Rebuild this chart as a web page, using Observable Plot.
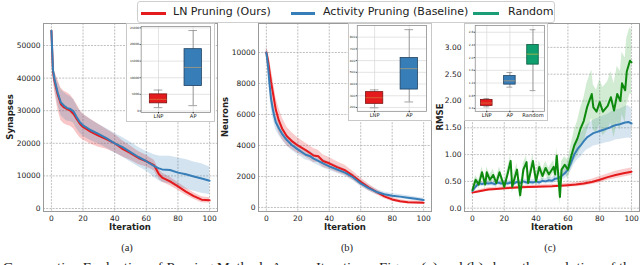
<!DOCTYPE html>
<html><head><meta charset="utf-8">
<script src="https://cdn.jsdelivr.net/npm/d3@7"></script>
<script src="https://cdn.jsdelivr.net/npm/@observablehq/plot@0.6"></script>
<style>
html,body{margin:0;padding:0;background:#fff;}
#root{position:relative;width:640px;height:265px;overflow:hidden;font-family:"DejaVu Sans",sans-serif;color:#222;}
.ylab{position:absolute;font-weight:bold;font-size:8.5px;transform:translate(-50%,-50%) rotate(-90deg);white-space:nowrap;}
.xlab{position:absolute;font-weight:bold;font-size:8.5px;transform:translate(-50%,-50%);white-space:nowrap;}
.cap{position:absolute;font-family:"Liberation Serif",serif;font-size:10.5px;transform:translate(-50%,-50%);white-space:nowrap;}
.legend{position:absolute;left:137px;top:1px;width:416px;height:20px;border:1px solid #cfcfcf;border-radius:3px;background:#fff;}
.lgline{position:absolute;top:10px;height:2.5px;}
.lgtext{position:absolute;top:3px;font-size:11px;white-space:nowrap;}
.insetbox{position:absolute;background:#fff;border:1px solid #c8c8c8;box-sizing:border-box;}
</style></head><body><div id="root"></div>
<script>
// ---------- data ----------
const legendLabels = ["LN Pruning (Ours)", "Activity Pruning (Baseline)", "Random"];
const xTicks = [0, 20, 40, 60, 80, 100];

// (a) synapses
const synIter = [0,1,2,4,6,8,10,12,14,16,18,20,25,30,35,40,45,50,55,60,65,68,70,75,80,85,90,95,100];
const synLNP = [54500,42000,39000,35000,32000,31000,30500,30000,29000,27500,26000,25000,23500,22300,21200,20000,18300,17000,15500,14500,13200,10500,9500,8300,6800,5200,3800,2700,2500];
const synLNPsd = [500,2000,3000,4500,5000,5000,5000,4800,4500,4500,4200,4000,3800,3500,3000,2800,2500,2200,2000,1800,1600,1500,1400,1300,1200,1100,1000,900,800];
const synAP = [54500,42500,39500,35500,32500,31500,30800,30500,29800,28000,26500,25500,24000,22800,21500,20000,18800,17300,15800,14500,13000,12300,12000,11800,11000,10500,9800,9200,8500];
const synAPsd = [500,2000,2500,3500,4000,4000,4000,3800,3600,3500,3400,3300,3200,3000,3000,3000,3000,3000,3000,3000,3500,3800,4000,4200,4500,4500,4500,4500,4200];
const synTicks = [0,10000,20000,30000,40000,50000];

// (b) neurons
const neuIter = [0,1,2,3,4,5,6,8,10,13,16,20,25,28,30,33,36,40,45,50,55,60,65,70,75,80,85,90,95,100];
const neuLNP = [10000,9500,8800,8100,7500,6900,6300,5600,5100,4600,4300,4000,3700,3500,3350,3300,3000,2850,2600,2400,2050,1650,1300,1000,720,520,400,330,320,310];
const neuLNPsd = [300,600,800,900,900,900,850,800,700,600,550,500,450,450,450,400,400,380,350,320,280,250,220,180,150,130,110,100,100,100];
const neuAP = [10000,9200,8000,7000,6400,5900,5500,5100,4750,4350,4050,3750,3400,3300,3150,3000,2850,2650,2450,2250,1950,1550,1250,1000,850,760,700,630,560,480];
const neuAPsd = [300,500,600,600,550,500,500,450,400,380,350,350,330,320,300,300,280,270,250,230,210,200,180,160,150,140,130,130,120,110];
const neuTicks = [0,2000,4000,6000,8000,10000];

// (c) RMSE
const rmseIterLNP = [0,5,10,15,20,25,30,35,40,45,50,55,60,65,70,75,80,85,90,95,100];
const rmseLNP = [0.29,0.32,0.35,0.36,0.37,0.38,0.39,0.395,0.40,0.405,0.41,0.42,0.43,0.44,0.46,0.49,0.53,0.58,0.62,0.65,0.68];
const rmseLNPsd = [0.02,0.03,0.03,0.03,0.03,0.03,0.03,0.03,0.03,0.03,0.03,0.03,0.035,0.04,0.045,0.05,0.06,0.06,0.07,0.07,0.07];
const rmseIterAP = [0,2,4,6,8,10,12,14,16,18,20,22,24,26,28,30,32,34,36,38,40,42,44,46,48,50,52,54,56,58,60,62,64,66,68,70,72,74,76,78,80,82,84,86,88,90,92,94,96,98,100];
const rmseAP = [0.32,0.40,0.47,0.45,0.47,0.46,0.47,0.45,0.48,0.46,0.47,0.46,0.48,0.46,0.49,0.47,0.50,0.48,0.49,0.48,0.50,0.48,0.51,0.50,0.52,0.51,0.55,0.56,0.60,0.65,0.72,0.85,1.00,1.10,1.17,1.25,1.32,1.36,1.40,1.42,1.44,1.46,1.48,1.50,1.53,1.55,1.56,1.58,1.60,1.61,1.58];
const rmseAPsd = [0.03,0.04,0.05,0.05,0.05,0.05,0.05,0.05,0.05,0.05,0.05,0.05,0.05,0.05,0.05,0.05,0.05,0.05,0.05,0.05,0.05,0.05,0.05,0.05,0.06,0.06,0.07,0.08,0.09,0.10,0.12,0.15,0.18,0.20,0.22,0.22,0.23,0.24,0.24,0.25,0.25,0.26,0.26,0.27,0.28,0.28,0.28,0.29,0.30,0.30,0.28];
const rmseIterR = [0,2,4,6,8,9,11,13,15,17,20,22,24,25,28,30,32,34,35,38,40,42,44,46,48,51,52,53,55,56,58,60,62,64,66,68,70,72,75,76,78,80,82,85,87,89,91,93,94,96,97,99,100];
const rmseR = [0.34,0.53,0.44,0.67,0.44,0.67,0.53,0.62,0.47,0.67,0.40,0.63,0.88,0.40,0.72,0.24,0.72,0.86,0.47,0.88,0.50,0.77,0.60,0.75,0.63,0.77,0.63,0.98,0.21,0.72,0.81,0.72,0.96,1.17,1.30,1.49,1.63,1.88,2.13,1.88,1.80,1.98,1.80,1.91,2.07,1.82,2.13,2.00,2.33,2.20,2.55,2.75,2.72];
const rmseRsd = [0.05,0.08,0.08,0.1,0.1,0.1,0.1,0.1,0.1,0.1,0.1,0.1,0.12,0.12,0.12,0.12,0.12,0.12,0.12,0.12,0.12,0.12,0.12,0.12,0.12,0.12,0.12,0.15,0.15,0.15,0.15,0.18,0.22,0.28,0.32,0.38,0.42,0.45,0.45,0.42,0.40,0.42,0.45,0.45,0.48,0.50,0.52,0.55,0.58,0.60,0.62,0.62,0.60];
const rmseTicks = [0,0.5,1,1.5,2,2.5,3];

// insets (box summaries)
const insetCatsAB = ["LNP", "AP"];
const insetCatsC = ["LNP", "AP", "Random"];
const boxSynQ1 = [2300, 7500], boxSynMed = [3500, 13100], boxSynQ3 = [5000, 18600], boxSynLo = [1000, 1600], boxSynHi = [6300, 24200];
const boxSynTicks = [0,5000,10000,15000,20000,25000];
const boxNeuQ1 = [231, 353], boxNeuMed = [283, 531], boxNeuQ3 = [331, 622], boxNeuLo = [197, 247], boxNeuHi = [350, 864];
const boxNeuTicks = [200,300,400,500,600,700,800];
const boxRmQ1 = [0.48, 1.15, 1.78], boxRmMed = [0.57, 1.27, 2.11], boxRmQ3 = [0.67, 1.42, 2.40], boxRmLo = [0.45, 1.07, 0.96], boxRmHi = [0.71, 1.53, 2.88];
const boxRmTicks = [0.4,0.8,1.2,1.6,2.0,2.4,2.8];

const captionText = "Comparative Evaluation of Pruning Methods Across Iterations. Figure (a) and (b) show the evolution of the";

// ---------- colors ----------
const RED = "#e41a1c", BLUE = "#377eb8", GREEN_LINE = "#0d8a0d", TEAL = "#1b9e77";

const root = document.getElementById("root");
function place(el, left, top){ el.style.position="absolute"; el.style.left=left+"px"; el.style.top=top+"px"; root.appendChild(el); return el; }
function div(cls, text, css){ const d=document.createElement("div"); d.className=cls; if(text!=null) d.textContent=text; Object.assign(d.style, css||{}); root.appendChild(d); return d; }
function table(xs, ys, sds){ return xs.map((x,i)=>({x, y:ys[i], lo:ys[i]-sds[i], hi:ys[i]+sds[i]})); }

const gridStyle = {stroke:"#b0b0b0", strokeOpacity:1, strokeWidth:0.8, strokeDasharray:"2,1.2"};
const svgStyle = {fontFamily:"DejaVu Sans", fontSize:"7.5px", color:"#222", background:"none", overflow:"visible"};

function mainPanel(cfg){
  const marks = [Plot.gridX({ticks:xTicks, ...gridStyle}), Plot.gridY({ticks:cfg.yTicks, ...gridStyle})];
  cfg.series.forEach(s=>marks.push(Plot.areaY(s.data,{x:"x", y1:"lo", y2:"hi", fill:s.band, fillOpacity:s.op})));
  cfg.series.forEach(s=>marks.push(Plot.lineY(s.data,{x:"x", y:"y", stroke:s.color, strokeWidth:2})));
  marks.push(Plot.frame({stroke:"#9a9a9a", strokeWidth:1}));
  marks.push(Plot.axisX({ticks:xTicks, tickSize:0, tickPadding:4, label:null, fontSize:7.5}));
  marks.push(Plot.axisY({ticks:cfg.yTicks, tickSize:0, tickPadding:3, label:null, fontSize:7.5, tickFormat:cfg.fmt}));
  const svg = Plot.plot({width:cfg.width, height:225, marginLeft:cfg.mL, marginRight:cfg.mR, marginTop:23, marginBottom:14,
    x:{domain:[-5,105]}, y:{domain:cfg.yDomain}, style:svgStyle, marks});
  place(svg, cfg.left, 0);
}

function inset(cfg){
  const n = cfg.cats.length;
  const rows = cfg.cats.map((c,i)=>({pos:i+1, q1:cfg.q1[i], med:cfg.med[i], q3:cfg.q3[i], lo:cfg.lo[i], hi:cfg.hi[i], fill:cfg.fills[i], edge:cfg.edges[i], mc:cfg.medColors[i]}));
  const marks = [
    Plot.gridX({ticks:rows.map(d=>d.pos), stroke:"#dcdcdc", strokeOpacity:1, strokeWidth:0.8}),
    Plot.gridY({ticks:cfg.yTicks, stroke:"#dcdcdc", strokeOpacity:1, strokeWidth:0.8}),
    Plot.ruleX(rows, {x:"pos", y1:"lo", y2:"q1", stroke:"#8a8a8a", strokeWidth:0.8}),
    Plot.ruleX(rows, {x:"pos", y1:"q3", y2:"hi", stroke:"#8a8a8a", strokeWidth:0.8}),
    Plot.ruleY(rows, {y:"lo", x1:d=>d.pos-0.125, x2:d=>d.pos+0.125, stroke:"#8a8a8a", strokeWidth:0.8}),
    Plot.ruleY(rows, {y:"hi", x1:d=>d.pos-0.125, x2:d=>d.pos+0.125, stroke:"#8a8a8a", strokeWidth:0.8}),
  ];
  rows.forEach(r=>{
    marks.push(Plot.rect([r], {x1:d=>d.pos-0.25, x2:d=>d.pos+0.25, y1:"q1", y2:"q3", fill:r.fill, stroke:r.edge, strokeWidth:0.8}));
    marks.push(Plot.ruleY([r], {y:"med", x1:d=>d.pos-0.25, x2:d=>d.pos+0.25, stroke:r.mc, strokeWidth:0.7}));
  });
  marks.push(Plot.frame({stroke:"#8c8c8c", strokeWidth:0.8}));
  marks.push(Plot.axisX({ticks:rows.map(d=>d.pos), tickFormat:p=>cfg.cats[p-1], tickSize:1.5, tickPadding:0.5, label:null, fontSize:5.3}));
  marks.push(Plot.axisY({ticks:cfg.yTicks, tickFormat:cfg.fmt, tickSize:1, tickPadding:1, label:null, fontSize:3}));
  const svg = Plot.plot({width:cfg.width, height:cfg.height, marginLeft:cfg.mL, marginRight:cfg.mR, marginTop:cfg.mT, marginBottom:cfg.mB,
    x:{domain:[0.5, n+0.5]}, y:{domain:cfg.yDomain}, style:{...svgStyle, fontSize:"5px"}, marks});
  const box = div("insetbox", null, {left:cfg.left+"px", top:cfg.top+"px", width:cfg.width+"px", height:cfg.height+"px"});
  svg.style.position="absolute"; svg.style.left="-1px"; svg.style.top="-1px";
  box.appendChild(svg);
}

// ---------- main panels ----------
mainPanel({left:0, width:220, mL:43, mR:3, yDomain:[-920,56750], yTicks:synTicks, fmt:d3.format("d"),
  series:[
    {data:table(synIter,synLNP,synLNPsd), color:RED, band:RED, op:0.25},
    {data:table(synIter,synAP,synAPsd), color:BLUE, band:BLUE, op:0.22}
  ]});
mainPanel({left:215, width:220, mL:43, mR:4, yDomain:[-260,11870], yTicks:neuTicks, fmt:d3.format("d"),
  series:[
    {data:table(neuIter,neuLNP,neuLNPsd), color:RED, band:RED, op:0.22},
    {data:table(neuIter,neuAP,neuAPsd), color:BLUE, band:BLUE, op:0.2}
  ]});
mainPanel({left:420, width:220, mL:44, mR:1, yDomain:[-0.062,3.446], yTicks:rmseTicks, fmt:d=>d===0?"0.0":d.toFixed(2),
  series:[
    {data:table(rmseIterLNP,rmseLNP,rmseLNPsd), color:RED, band:RED, op:0.22},
    {data:table(rmseIterAP,rmseAP,rmseAPsd), color:BLUE, band:BLUE, op:0.2},
    {data:table(rmseIterR,rmseR,rmseRsd), color:GREEN_LINE, band:"#4caf50", op:0.25}
  ]});

// ---------- insets ----------
inset({left:126, top:23, width:89, height:99, mL:15, mR:3, mT:3, mB:8, cats:insetCatsAB,
  q1:boxSynQ1, med:boxSynMed, q3:boxSynQ3, lo:boxSynLo, hi:boxSynHi, yTicks:boxSynTicks, yDomain:[-440,25440], fmt:d3.format("d"),
  fills:[RED, BLUE], edges:["#7a1010","#1d3f60"], medColors:["#d08040","#c0a070"]});
inset({left:348, top:23, width:84, height:98, mL:9, mR:4, mT:2, mB:8, cats:insetCatsAB,
  q1:boxNeuQ1, med:boxNeuMed, q3:boxNeuQ3, lo:boxNeuLo, hi:boxNeuHi, yTicks:boxNeuTicks, yDomain:[167,900], fmt:d3.format("d"),
  fills:[RED, BLUE], edges:["#7a1010","#1d3f60"], medColors:["#d08040","#c0a070"]});
inset({left:464, top:23, width:84, height:98, mL:11, mR:2, mT:2, mB:8, cats:insetCatsC,
  q1:boxRmQ1, med:boxRmMed, q3:boxRmQ3, lo:boxRmLo, hi:boxRmHi, yTicks:boxRmTicks, yDomain:[0.308,3.015], fmt:d3.format(".1f"),
  fills:[RED, BLUE, "#0f9e6e"], edges:["#7a1010","#1d3f60","#0a5a3e"], medColors:["#d08040","#c0a070","#d8c040"]});

// ---------- axis labels & captions ----------
div("ylab", "Synapses", {left:"10px", top:"117px"});
div("ylab", "Neurons", {left:"225px", top:"117px"});
div("ylab", "RMSE", {left:"440px", top:"117px"});
div("xlab", "Iteration", {left:"130px", top:"227px"});
div("xlab", "Iteration", {left:"345px", top:"227px"});
div("xlab", "Iteration", {left:"552px", top:"227px"});
div("cap", "(a)", {left:"127px", top:"246.5px"});
div("cap", "(b)", {left:"347px", top:"246.5px"});
div("cap", "(c)", {left:"550px", top:"246.5px"});

// ---------- legend ----------
const lg = div("legend");
const lgColors = [RED, BLUE, TEAL];
const lgLineX = [3, 153, 335], lgLineW = [25, 24, 26], lgTextX = [35, 185, 370];
legendLabels.forEach((t,i)=>{
  const l=document.createElement("div"); l.className="lgline"; Object.assign(l.style,{left:lgLineX[i]+"px", width:lgLineW[i]+"px", background:lgColors[i]}); lg.appendChild(l);
  const s=document.createElement("div"); s.className="lgtext"; s.textContent=t; s.style.left=lgTextX[i]+"px"; lg.appendChild(s);
});

// ---------- clipped figure caption (cut by the bottom edge as in the reference) ----------
const ns="http://www.w3.org/2000/svg";
const cs=document.createElementNS(ns,"svg"); cs.setAttribute("width","640"); cs.setAttribute("height","20");
const ct=document.createElementNS(ns,"text"); ct.setAttribute("x","3"); ct.setAttribute("y","15"); ct.setAttribute("textLength","634"); ct.setAttribute("lengthAdjust","spacingAndGlyphs");
ct.setAttribute("font-family","Liberation Serif"); ct.setAttribute("font-size","12.5"); ct.setAttribute("fill","#222"); ct.textContent=captionText;
cs.appendChild(ct); place(cs, 0, 256);
</script></body></html>
